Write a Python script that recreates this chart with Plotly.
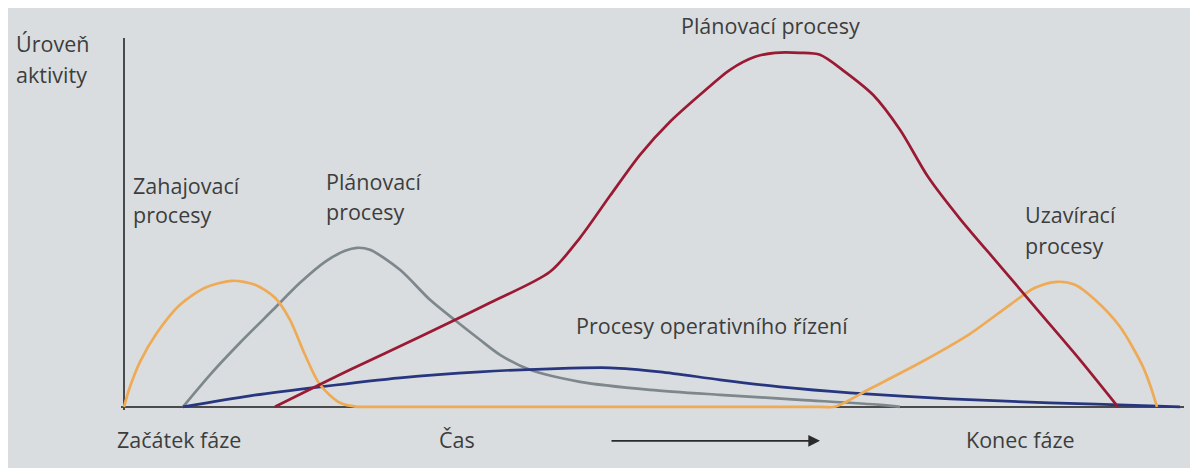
import plotly.graph_objects as go

# Time axis (0 = start of phase) and activity level values
orange_x = [0, 0.6, 1.6, 3.3, 5.6, 8.1, 10.8, 13.1, 15.1, 16.6, 18.1, 19.6, 21.6, 23.3, 24.6,
            69.6, 71.1, 74.6, 79.6, 84.6, 88.6, 91.1, 93.3, 95.1, 97.1, 99.6, 101.9, 102.6, 103.3]
orange_y = [0, 5.0, 11.25, 18.5, 25.5, 29.75, 31.5, 30.5, 27.25, 21.75, 13, 5.5, 1, 0, 0,
            0, 0, 4.5, 11, 18.25, 25.5, 29.75, 31.25, 30.5, 26.75, 20.0, 10.0, 5.5, 0]

grey_x = [5.9, 8.6, 11.6, 14.9, 17.6, 20.1, 22.1, 23.3, 24.6, 27.6, 30.6, 33.3, 35.6, 37.6,
          40.6, 45.6, 52.6, 59.6, 67.6, 75.6, 77.6]
grey_y = [0, 8, 16, 24.25, 31, 36.25, 39, 39.75, 39.25, 34.25, 26.75, 21.25, 16.75, 13,
          9.25, 6.25, 4.25, 3, 1.75, 0.5, 0]

red_x = [15.1, 22.6, 29.6, 36.6, 42.6, 45.6, 48.6, 51.6, 54.6, 57.6, 60.6, 63.1, 65.1, 67.6,
         69.6, 72.1, 74.9, 77.6, 80.4, 83.6, 87.6, 91.6, 95.6, 99.4]
red_y = [0, 9.25, 17.5, 26, 33.75, 42.25, 52.75, 63, 71.25, 78, 84.25, 87.5, 88.5, 88.5,
         88, 83.75, 78, 69.25, 57.5, 47, 35.25, 23.5, 11.75, 0]

blue_x = [5.9, 12.6, 19.6, 27.6, 35.6, 42.6, 48.6, 53.6, 59.6, 65.6, 72.6, 82.6, 92.6, 102.6, 105.6]
blue_y = [0, 2.75, 5, 7.25, 8.75, 9.5, 9.75, 8.75, 6.75, 5.0, 3.5, 2.0, 1.0, 0.25, 0]

label_text = ["Úroveň", "aktivity", "Zahajovací", "procesy", "Plánovací", "procesy",
              "Plánovací procesy", "Procesy operativního řízení", "Uzavírací", "procesy",
              "Začátek fáze", "Čas", "Konec fáze"]
label_x = [-11.0, -11.0, 0.7, 0.7, 20.0, 20.0, 55.5, 45.0, 89.9, 89.9, -0.9, 31.3, 84.0]
label_y = [90.75, 83.0, 55.25, 48.0, 56.25, 48.75, 95.25, 20.25, 48.0, 40.25, -8.25, -8.25, -8.25]

arrow_from = (48.6, -8.5)
arrow_to = (69.6, -8.5)

X_RANGE = [-0.3, 106.0]
Y_RANGE = [-0.8, 92.2]


def px(v):
    return (v - X_RANGE[0]) / (X_RANGE[1] - X_RANGE[0])


def py(v):
    return (v - Y_RANGE[0]) / (Y_RANGE[1] - Y_RANGE[0])


fig = go.Figure()
series = [
    (grey_x, grey_y, "#7d878c"),
    (blue_x, blue_y, "#27367f"),
    (orange_x, orange_y, "#eeaa55"),
    (red_x, red_y, "#9a1a34"),
]
for xs, ys, col in series:
    fig.add_trace(go.Scatter(x=xs, y=ys, mode="lines",
                             line=dict(color=col, width=2.7, shape="spline", smoothing=0.8),
                             hoverinfo="skip", showlegend=False))

for txt, x, y in zip(label_text, label_x, label_y):
    fig.add_annotation(x=px(x), y=py(y), xref="paper", yref="paper", text=txt, showarrow=False,
                       xanchor="left", yanchor="middle",
                       font=dict(family="Open Sans", size=21.5, color="#3d3d3d"))

# time arrow
plot_w = 1198 - 113 - 22
fig.add_annotation(x=px(arrow_to[0]), y=py(arrow_to[1]), xref="paper", yref="paper",
                   ax=-(arrow_to[0] - arrow_from[0]) / (X_RANGE[1] - X_RANGE[0]) * plot_w, ay=0,
                   text="", showarrow=True, arrowhead=2, arrowsize=1.3, arrowwidth=1.8,
                   arrowcolor="#2a2a2a")

fig.update_layout(
    width=1198, height=468,
    margin=dict(l=113, r=22, t=30, b=66),
    paper_bgcolor="#d9dde0", plot_bgcolor="#d9dde0",
    xaxis=dict(range=X_RANGE, showgrid=False, showticklabels=False, ticks="",
               zeroline=True, zerolinecolor="#4a4a4a", zerolinewidth=1.6, fixedrange=True),
    yaxis=dict(range=Y_RANGE, showgrid=False, showticklabels=False, ticks="",
               zeroline=True, zerolinecolor="#4a4a4a", zerolinewidth=1.6, fixedrange=True),
)

fig.write_html("out.html")
